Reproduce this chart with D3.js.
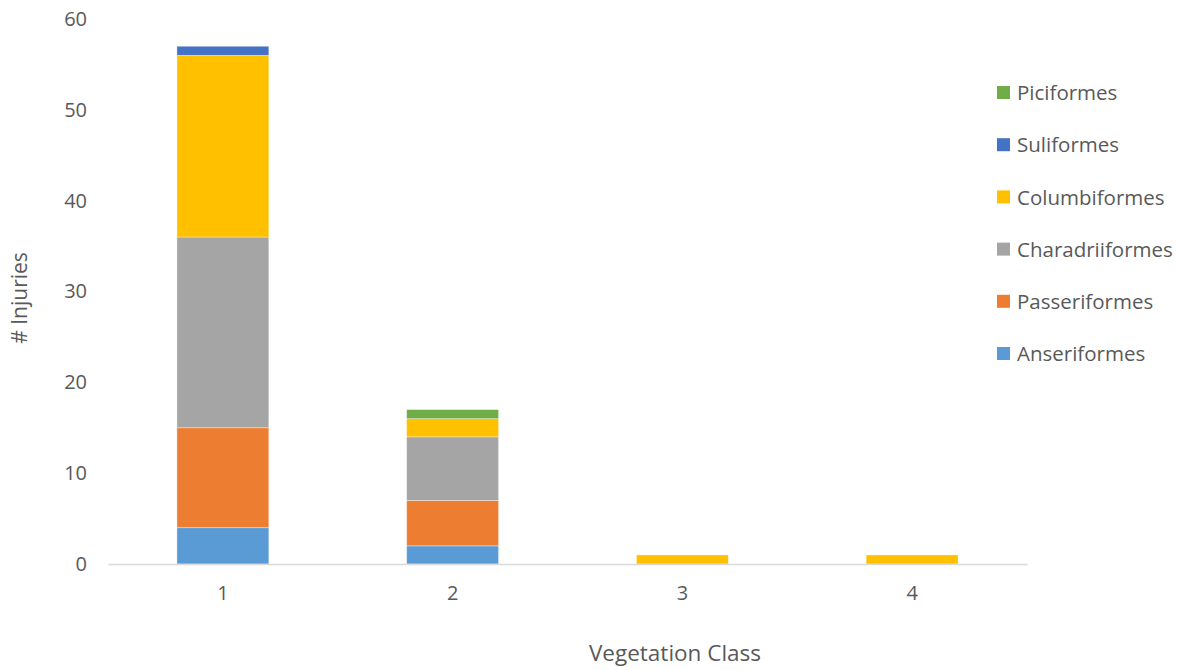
<!DOCTYPE html>
<html>
<head>
<meta charset="utf-8">
<script src="https://cdn.jsdelivr.net/npm/d3@7"></script>
<style>
  html, body { margin: 0; padding: 0; background: #fff; }
  svg { display: block; }
</style>
</head>
<body>
<svg id="chart" width="1180" height="670"></svg>
<script>
// Vegetation classes along the x axis
const categories = ["1", "2", "3", "4"];

// Injuries per bird order, stacked bottom to top
const anseriformes    = [4, 2, 0, 0];
const passeriformes   = [11, 5, 0, 0];
const charadriiformes = [21, 7, 0, 0];
const columbiformes   = [20, 2, 1, 1];
const suliformes      = [1, 0, 0, 0];
const piciformes      = [0, 1, 0, 0];

const seriesNames  = ["Anseriformes", "Passeriformes", "Charadriiformes", "Columbiformes", "Suliformes", "Piciformes"];
const seriesValues = [anseriformes, passeriformes, charadriiformes, columbiformes, suliformes, piciformes];
const seriesColors = ["#5b9bd5", "#ed7d31", "#a5a5a5", "#ffc000", "#4472c4", "#70ad47"];

const yTicks = [0, 10, 20, 30, 40, 50, 60];

const font = "'Open Sans', 'Liberation Sans', sans-serif";
const textColor = "#595959";

const svg = d3.select("#chart");

const margin = { left: 108, right: 153, top: 19, bottom: 106 };
const width = 1180, height = 670;

const x = d3.scaleBand()
  .domain(categories)
  .range([margin.left, width - margin.right])
  .paddingInner(0.6)
  .paddingOuter(0.3);

const y = d3.scaleLinear()
  .domain([0, 60])
  .range([height - margin.bottom, margin.top]);

// Build stacked table
const rows = categories.map((c, i) => {
  const r = { cat: c };
  seriesNames.forEach((n, k) => { r[n] = seriesValues[k][i]; });
  return r;
});
const stacked = d3.stack().keys(seriesNames)(rows);

// Bars
svg.append("g")
  .selectAll("g")
  .data(stacked)
  .join("g")
  .attr("fill", (d, i) => seriesColors[i])
  .selectAll("rect")
  .data(d => d.filter(s => s[1] - s[0] > 0))
  .join("rect")
  .attr("x", d => x(d.data.cat))
  .attr("width", x.bandwidth())
  .attr("y", d => y(d[1]))
  .attr("height", d => y(d[0]) - y(d[1]))
  .attr("stroke", "#ffffff")
  .attr("stroke-opacity", 0.45)
  .attr("stroke-width", 0.8);

// X axis baseline
const xAxis = svg.append("g")
  .attr("transform", `translate(0,${y(0)})`)
  .call(d3.axisBottom(x).tickSize(0).tickPadding(22));
xAxis.select(".domain").attr("stroke", "#d9d9d9").attr("stroke-width", 1.3);
xAxis.selectAll("text")
  .attr("font-family", font).attr("font-size", 20).attr("fill", textColor);

// Y axis labels (no line)
const yAxis = svg.append("g")
  .attr("transform", `translate(${margin.left},0)`)
  .call(d3.axisLeft(y).tickValues(yTicks).tickSize(0).tickPadding(21));
yAxis.select(".domain").remove();
yAxis.selectAll("text")
  .attr("font-family", font).attr("font-size", 20).attr("fill", textColor);

// Axis titles
svg.append("text")
  .attr("x", 675).attr("y", 661)
  .attr("text-anchor", "middle")
  .attr("font-family", font).attr("font-size", 22.5).attr("fill", textColor)
  .text("Vegetation Class");

svg.append("text")
  .attr("transform", "translate(27,298) rotate(-90)")
  .attr("text-anchor", "middle")
  .attr("font-family", font).attr("font-size", 21).attr("fill", textColor)
  .text("# Injuries");

// Legend, top to bottom in reverse stack order
const legendOrder = seriesNames.map((n, i) => ({ name: n, color: seriesColors[i] })).reverse();
const legend = svg.append("g");
const item = legend.selectAll("g")
  .data(legendOrder)
  .join("g")
  .attr("transform", (d, i) => `translate(997,${93 + i * 52.2})`);
item.append("rect")
  .attr("x", 0).attr("y", -7).attr("width", 13).attr("height", 13)
  .attr("fill", d => d.color);
item.append("text")
  .attr("x", 20).attr("y", 0).attr("dy", "0.35em")
  .attr("font-family", font).attr("font-size", 20.5).attr("fill", textColor)
  .text(d => d.name);
</script>
</body>
</html>
